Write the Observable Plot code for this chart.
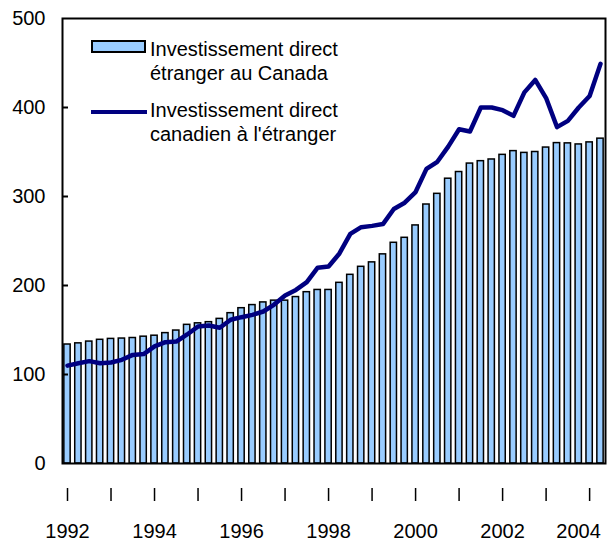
<!DOCTYPE html>
<html>
<head>
<meta charset="utf-8">
<script src="https://cdn.jsdelivr.net/npm/d3@7"></script>
<script src="https://cdn.jsdelivr.net/npm/@observablehq/plot@0.6"></script>
<style>
  html, body { margin: 0; padding: 0; background: #fff; }
  #chart { width: 608px; height: 544px; }
</style>
</head>
<body>
<div id="chart"></div>
<script>
// Years and quarters: 1992 Q1 to 2004 Q2
const years = [1992, 1993, 1994, 1995, 1996, 1997, 1998, 1999, 2000, 2001, 2002, 2003, 2004];
const quarters = ["T1", "T2", "T3", "T4"];
const yearLabels = ["1992", "1994", "1996", "1998", "2000", "2002", "2004"];
const yTicks = [0, 100, 200, 300, 400, 500];

// Foreign direct investment in Canada (bars), billions $
const fdiInCanada = [
  133.7, 135, 137, 139, 140, 140.4, 141, 142.5, 143.6, 146.5,
  149.4, 155.8, 157.5, 158.8, 162.5, 168.9, 174.5, 178, 181, 183,
  183, 187, 192.5, 195, 195, 203, 212, 221, 226, 235,
  248, 253.6, 267.5, 291, 303, 320, 327.5, 337, 339.7, 341.6,
  346.8, 351, 349, 350, 355, 360, 359.7, 358.5, 360.8, 365
];
// Canadian direct investment abroad (line), billions $
const cdiAbroad = [
  110, 112.7, 115, 112.7, 113.5, 116.5, 122, 123, 131.5, 136.3,
  137, 145, 154, 155, 152.5, 161.5, 164.4, 167, 170.8, 178.6,
  188.8, 195, 203.7, 220, 221.3, 236, 258, 265.5, 267, 269,
  286, 293, 305, 331, 339, 356, 375.5, 373, 400, 400,
  397, 390.6, 417, 431, 410.6, 378, 385, 400, 413, 449
];

const legendLabels = [
  ["Investissement direct", "étranger au Canada"],
  ["Investissement direct", "canadien à l'étranger"]
];

const periods = [];
for (const y of years) for (const q of quarters) periods.push(`${y}${q}`);
const quarterKeys = periods.slice(0, fdiInCanada.length);
const data = quarterKeys.map((q, i) => ({q, fdi: fdiInCanada[i], cdi: cdiAbroad[i]}));
const q1Keys = years.map(y => `${y}T1`);
const labelKeys = yearLabels.map(y => `${y}T1`);

const W = 608, H = 544;
const mL = 62, mR = 3, mT = 18, mB = 81;
const font = "'Liberation Sans', Arial, Helvetica, sans-serif";

function legend() {
  const g = d3.create("svg:g")
    .attr("font-family", font)
    .attr("font-size", 20)
    .attr("text-anchor", "start")
    .attr("fill", "black");
  g.append("rect")
    .attr("x", 92).attr("y", 41).attr("width", 53).attr("height", 11)
    .attr("fill", "#99ccff").attr("stroke", "black").attr("stroke-width", 2);
  g.append("line")
    .attr("x1", 91).attr("x2", 147).attr("y1", 112).attr("y2", 112)
    .attr("stroke", "#000080").attr("stroke-width", 4);
  const baselines = [[56, 80], [117, 141]];
  legendLabels.forEach((lines, i) => {
    lines.forEach((t, j) => {
      g.append("text").attr("x", 150).attr("y", baselines[i][j])
        .attr("text-anchor", "start").text(t);
    });
  });
  return g.node();
}

const chart = Plot.plot({
  width: W,
  height: H,
  marginLeft: mL,
  marginRight: mR,
  marginTop: mT,
  marginBottom: mB,
  style: {fontFamily: font, fontSize: "20px", color: "black", background: "white"},
  x: {type: "band", domain: quarterKeys, paddingInner: 0.42, paddingOuter: 0.17, label: null, axis: null},
  y: {domain: [0, 500], label: null, axis: null},
  marks: [
    Plot.barY(data, {x: "q", y: "fdi", fill: "#99ccff", stroke: "black", strokeWidth: 1.5}),
    Plot.line(data, {x: "q", y: "cdi", stroke: "#000080", strokeWidth: 4.5, strokeLinejoin: "round"}),
    Plot.tickY(yTicks.slice(1, -1), {y: d => d, stroke: "black", strokeWidth: 2, insetRight: W - mL - mR - 6}),
    Plot.axisY({ticks: yTicks, tickSize: 0, tickPadding: 17, fontSize: 20, anchor: "left", label: null}),
    Plot.axisX({ticks: q1Keys, tickSize: 13, tickFormat: () => "", insetBottom: -25, strokeWidth: 1.5, label: null}),
    Plot.axisX({ticks: labelKeys.slice(0, -1), tickSize: 0, tickPadding: 60, tickFormat: q => q.slice(0, 4), fontSize: 20, label: null}),
    Plot.axisX({ticks: labelKeys.slice(-1), tickSize: 0, tickPadding: 60, tickFormat: q => q.slice(0, 4), fontSize: 20, dx: -11, label: null}),
    Plot.frame({stroke: "black", strokeWidth: 2}),
    legend
  ]
});

document.getElementById("chart").appendChild(chart);
</script>
</body>
</html>
